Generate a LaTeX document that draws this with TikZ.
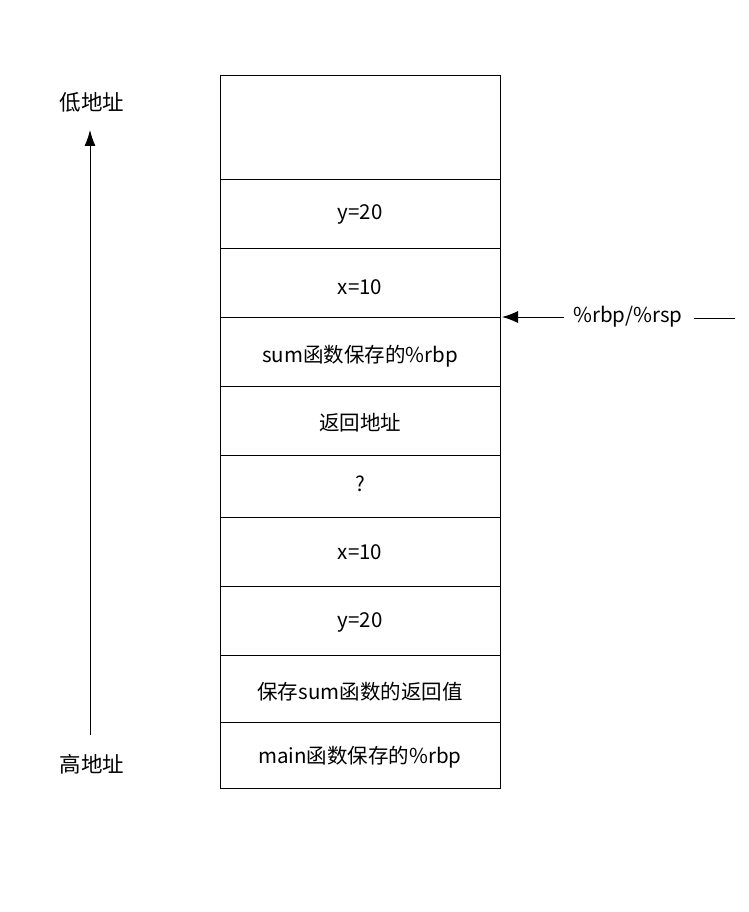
\documentclass[tikz,border=0pt]{standalone}
\usepackage{fontspec}
\setmainfont{Noto Sans CJK SC}
\usetikzlibrary{arrows.meta}
\begin{document}
\begin{tikzpicture}[x=1pt,y=-1pt,
  cell/.style={font=\fontsize{20.5}{24}\selectfont},
  side/.style={font=\fontsize{21.5}{24}\selectfont}]
\useasboundingbox (0,0) rectangle (748,912);
\draw[line width=0.9pt] (220,75) rectangle (500,788);
\foreach \y in {179,248,317,386,455,517,586,655,722}
  \draw[line width=0.9pt] (220,\y) -- (500,\y);
\node[cell] (y1) at (360,214) {y=20};
\node[cell] (x1) at (360,287) {x=10};
\node[cell] (rbp1) at (360,356) {sum函数保存的\%rbp};
\node[cell] (ret) at (360,423) {返回地址};
\node[cell] (q) at (360,484) {?};
\node[cell] (x2) at (360,552) {x=10};
\node[cell] (y2) at (360,622) {y=20};
\node[cell] (save) at (360,692) {保存sum函数的返回值};
\node[cell] (rbp2) at (360,757) {main函数保存的\%rbp};
\node[side] (low) at (92,102) {低地址};
\node[side] (high) at (92,764) {高地址};
\coordinate (abot) at (90,735);
\coordinate (atop) at (90,130);
\draw[line width=1pt,-{Latex[length=16pt,width=11pt]}] (abot) -- (atop);
\node[cell] (reg) at (628,317) {\%rbp/\%rsp};
\coordinate (edge) at (502,317);
\coordinate (tail) at (735,318);
\draw[line width=1pt,-{Latex[length=16pt,width=12pt]}] (reg.west) ++(-6,0) -- (edge);
\draw[line width=1pt] (reg.east) ++(8,1) -- (tail);
\end{tikzpicture}
\end{document}
